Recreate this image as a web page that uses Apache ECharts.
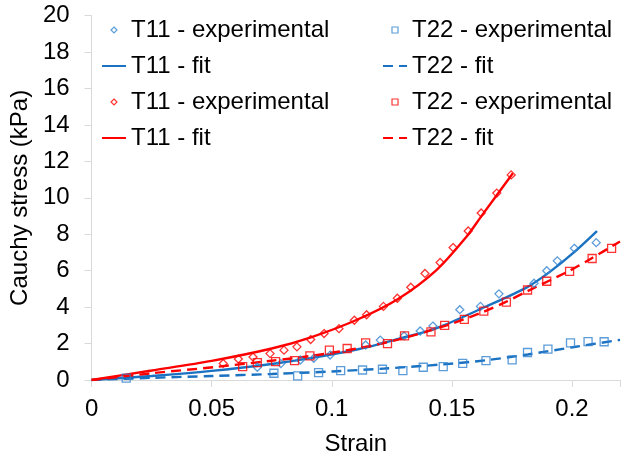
<!DOCTYPE html>
<html>
<head>
<meta charset="utf-8">
<title>Cauchy stress vs strain</title>
<script src="https://cdn.jsdelivr.net/npm/echarts@6/dist/echarts.min.js"></script>
<style>
    html, body { margin: 0; padding: 0; background: #fff; }
    #chart { width: 623px; height: 461px; }
</style>
</head>
<body>
<div id="chart"></div>
<script>
// 数据[strain, stress kPa]
const blueT11Exp = [
    [0.069, 0.70], [0.0788, 0.90], [0.0869, 1.10], [0.0925, 1.19], [0.0993, 1.37],
    [0.1141, 1.92], [0.1202, 2.19], [0.1301, 2.42], [0.1368, 2.69], [0.1421, 2.96],
    [0.1533, 3.86], [0.1619, 4.04], [0.1696, 4.73], [0.1842, 5.31], [0.1895, 6.00],
    [0.1939, 6.54], [0.2010, 7.23], [0.2101, 7.54]
];
const blueT22Exp = [
    [0.0144, 0.10], [0.0759, 0.37], [0.0858, 0.23], [0.0945, 0.41], [0.1037, 0.52],
    [0.1128, 0.55], [0.1211, 0.59], [0.1296, 0.52], [0.1381, 0.70], [0.1464, 0.73],
    [0.1545, 0.91], [0.1642, 1.06], [0.1751, 1.10], [0.1815, 1.51], [0.1900, 1.70],
    [0.1994, 2.04], [0.2067, 2.11], [0.2134, 2.10]
];
const blueT11Fit = [
    [0, 0], [0.025, 0.22], [0.05, 0.50], [0.075, 0.88], [0.0912, 1.20], [0.1114, 1.70],
    [0.1276, 2.25], [0.1437, 2.85], [0.164, 4.02], [0.1814, 5.10], [0.1909, 5.95],
    [0.2003, 6.95], [0.2104, 8.18]
];
const blueT22Fit = [
    [0, 0], [0.025, 0.12], [0.05, 0.22], [0.075, 0.33], [0.10, 0.47], [0.122, 0.63],
    [0.1465, 0.86], [0.164, 1.08], [0.1815, 1.40], [0.2003, 1.80], [0.22, 2.20]
];
const redT11Exp = [
    [0.0548, 0.91], [0.0611, 1.15], [0.0672, 1.26], [0.0743, 1.45], [0.0801, 1.64],
    [0.0855, 1.82], [0.0912, 2.22], [0.0968, 2.55], [0.1030, 2.82], [0.1094, 3.28],
    [0.1145, 3.58], [0.1215, 4.04], [0.1273, 4.49], [0.1329, 5.09], [0.1388, 5.85],
    [0.1451, 6.45], [0.1505, 7.27], [0.1568, 8.18], [0.1622, 9.17], [0.1687, 10.26],
    [0.1747, 11.26]
];
const redT22Exp = [
    [0.0629, 0.73], [0.069, 0.95], [0.0766, 1.01], [0.0845, 1.06], [0.0909, 1.32],
    [0.0990, 1.64], [0.1064, 1.73], [0.1141, 2.04], [0.1232, 2.00], [0.1303, 2.42],
    [0.1413, 2.64], [0.1470, 3.00], [0.1552, 3.33], [0.1633, 3.78], [0.1727, 4.27],
    [0.1815, 4.94], [0.1895, 5.42], [0.1990, 5.96], [0.2084, 6.67], [0.2165, 7.23]
];
const redT11Fit = [
    [0, 0], [0.025, 0.52], [0.05, 1.05], [0.075, 1.73], [0.091, 2.33], [0.11, 3.28],
    [0.1276, 4.45], [0.1437, 6.05], [0.156, 7.85], [0.1626, 9.05], [0.1754, 11.35]
];
const redT22Fit = [
    [0, 0], [0.025, 0.37], [0.052, 0.72], [0.075, 1.06], [0.0912, 1.32], [0.1114, 1.75],
    [0.1276, 2.22], [0.1478, 3.00], [0.1633, 3.75], [0.1727, 4.30], [0.1815, 4.88],
    [0.199, 6.00], [0.2084, 6.70], [0.22, 7.60]
];

// 图例名称（红色系列末尾加空格以区分）
const namesLeft = ['T11 - experimental', 'T11 - fit', 'T11 - experimental ', 'T11 - fit '];
const namesRight = ['T22 - experimental', 'T22 - fit', 'T22 - experimental ', 'T22 - fit '];

const BLUE_LINE = '#1a72c1';
const BLUE_MARK = '#3283cf';
const RED = '#ff0000';
const FONT = 'Liberation Sans, Arial, sans-serif';
const DIAMOND = 'path://M5,0 L10,5 L5,10 L0,5 Z';
const SQUARE = 'path://M0,0 L10,0 L10,10 L0,10 Z';

document.addEventListener('DOMContentLoaded', function() {
    const chart = echarts.init(document.getElementById('chart'), null, { renderer: 'canvas' });
    chart.setOption(buildOption());
    window.addEventListener('resize', () => chart.resize());
});

function scatterSeries(name, data, symbol, color) {
    return {
        name: name,
        type: 'scatter',
        data: data,
        symbol: symbol,
        symbolSize: 8,
        itemStyle: { color: 'rgba(0,0,0,0)', borderColor: color, borderWidth: 1.3 },
        z: 3
    };
}

function lineSeries(name, data, color, dashed) {
    return {
        name: name,
        type: 'line',
        data: data,
        smooth: 0.3,
        symbol: 'none',
        color: color,
        lineStyle: { color: color, width: 2.4, type: dashed ? [10, 6] : 'solid' },
        z: 2
    };
}

// 图例项：散点用空心图标；折线只画线，隐藏中间的点
function legendItem(name, icon, color) {
    if (!icon) {
        return {
            name: name,
            itemStyle: { color: 'rgba(0,0,0,0)', borderColor: 'rgba(0,0,0,0)', borderWidth: 0, opacity: 0 }
        };
    }
    return {
        name: name,
        icon: icon,
        itemStyle: { color: '#fff', borderColor: color, borderWidth: 1.2 }
    };
}

function buildOption() {
    const legendCommon = {
        orient: 'vertical',
        itemWidth: 24,
        itemHeight: 6,
        itemGap: 12,
        symbolKeepAspect: true,
        selectedMode: false,
        textStyle: { fontFamily: FONT, fontSize: 24, color: '#000' },
        padding: 0
    };
    return {
        animation: false,
        backgroundColor: '#fff',
        grid: { left: 84.4, right: -5.6, top: 15.7, bottom: 77.5 },
        legend: [
            Object.assign({}, legendCommon, {
                left: 101, top: 18,
                data: [
                    legendItem(namesLeft[0], DIAMOND, BLUE_MARK),
                    legendItem(namesLeft[1]),
                    legendItem(namesLeft[2], DIAMOND, RED),
                    legendItem(namesLeft[3])
                ]
            }),
            Object.assign({}, legendCommon, {
                left: 382, top: 18,
                data: [
                    legendItem(namesRight[0], SQUARE, BLUE_MARK),
                    legendItem(namesRight[1]),
                    legendItem(namesRight[2], SQUARE, RED),
                    legendItem(namesRight[3])
                ]
            })
        ],
        xAxis: {
            type: 'value',
            min: 0,
            max: 0.22,
            interval: 0.05,
            name: 'Strain',
            nameLocation: 'middle',
            nameGap: 52,
            nameTextStyle: { fontFamily: FONT, fontSize: 24, color: '#000' },
            axisLine: { show: true, lineStyle: { color: '#d9d9d9', width: 1 } },
            axisTick: { show: true, length: 7, lineStyle: { color: '#d9d9d9' } },
            splitLine: { show: false },
            axisLabel: {
                fontFamily: FONT, fontSize: 24, color: '#000', margin: 17,
                formatter: v => (Math.abs(v / 0.05 - Math.round(v / 0.05)) < 1e-6 ? String(+v.toFixed(2)) : '')
            }
        },
        yAxis: {
            type: 'value',
            min: 0,
            max: 20,
            interval: 2,
            name: 'Cauchy stress (kPa)',
            nameLocation: 'middle',
            nameGap: 47,
            nameTextStyle: { fontFamily: FONT, fontSize: 24, color: '#000' },
            axisLine: { show: true, lineStyle: { color: '#d9d9d9', width: 1 } },
            axisTick: { show: true, length: 7, lineStyle: { color: '#d9d9d9' } },
            splitLine: { show: false },
            axisLabel: { fontFamily: FONT, fontSize: 24, color: '#000', margin: 22 }
        },
        series: [
            scatterSeries(namesLeft[0], blueT11Exp, 'diamond', BLUE_MARK),
            scatterSeries(namesRight[0], blueT22Exp, 'rect', BLUE_MARK),
            lineSeries(namesLeft[1], blueT11Fit, BLUE_LINE, false),
            lineSeries(namesRight[1], blueT22Fit, BLUE_LINE, true),
            scatterSeries(namesLeft[2], redT11Exp, 'diamond', RED),
            scatterSeries(namesRight[2], redT22Exp, 'rect', RED),
            lineSeries(namesLeft[3], redT11Fit, RED, false),
            lineSeries(namesRight[3], redT22Fit, RED, true)
        ]
    };
}
</script>
</body>
</html>
